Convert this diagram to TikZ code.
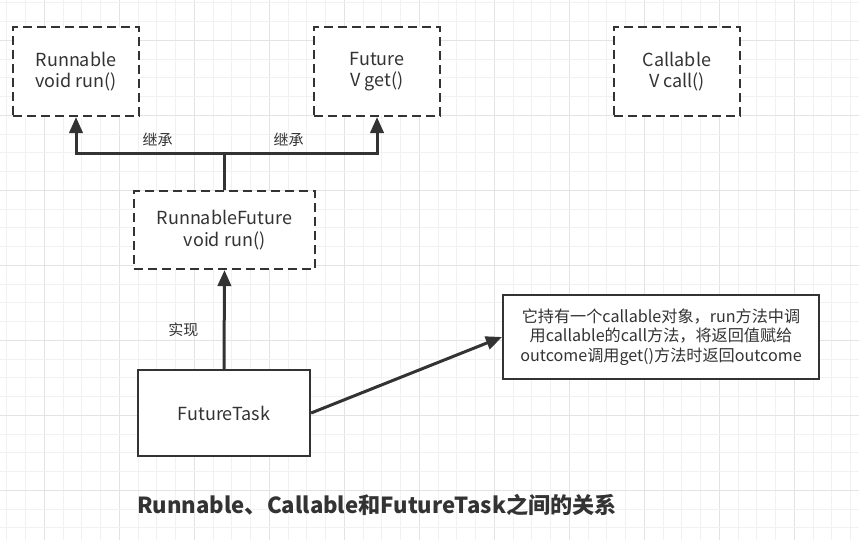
\documentclass[tikz,border=0pt]{standalone}
\usepackage{fontspec}
\setmainfont{Noto Sans CJK SC}
\usetikzlibrary{positioning, arrows.meta, calc}
\definecolor{drawio_dark}{HTML}{333333}
\definecolor{grid_minor}{HTML}{F1F1F1}
\definecolor{grid_major}{HTML}{E3E3E3}
\tikzstyle{iface} = [draw=drawio_dark, line width=1.6pt, dash pattern=on 6.5pt off 4pt, fill=white, text=drawio_dark, align=center, inner sep=0pt, font=\fontsize{13.5}{16.2}\selectfont]
\tikzstyle{cls} = [draw=drawio_dark, line width=1.6pt, fill=white, text=drawio_dark, align=center, inner sep=0pt]
\tikzstyle{arrow} = [drawio_dark, line width=2.25pt, -{Triangle[length=12pt, width=10pt]}]
\tikzstyle{link} = [drawio_dark, line width=2.25pt]
\tikzstyle{lbl} = [text=drawio_dark, font=\fontsize{11.25}{13}\selectfont]

\begin{document}
\begin{tikzpicture}[x=0.75pt, y=-0.75pt]
        \useasboundingbox (0,0) rectangle (859,540);
        % grid
        \foreach \k in {0,...,45} {
            \pgfmathsetmacro{\gx}{6.8+18.75*\k}
            \pgfmathtruncatemacro{\gm}{mod(\k,4)}
            \ifnum\gm=2 \draw[grid_major, line width=0.75pt] (\gx,0) -- (\gx,540);
            \else \draw[grid_minor, line width=0.75pt] (\gx,0) -- (\gx,540); \fi
        }
        \foreach \k in {0,...,28} {
            \pgfmathsetmacro{\gy}{2.8+18.75*\k}
            \pgfmathtruncatemacro{\gm}{mod(\k,4)}
            \ifnum\gm=2 \draw[grid_major, line width=0.75pt] (0,\gy) -- (859,\gy);
            \else \draw[grid_minor, line width=0.75pt] (0,\gy) -- (859,\gy); \fi
        }

        \node (runnable) [iface, minimum width=94.5pt, minimum height=66.75pt] at (76,71.5) {Runnable\\void run()};
        \node (future) [iface, minimum width=94.5pt, minimum height=66.75pt] at (377,71.5) {Future\\V get()};
        \node (callable) [iface, minimum width=94.5pt, minimum height=66.75pt] at (677,71.5) {Callable\\V call()};
        \node (runnable_future) [iface, minimum width=135.75pt, minimum height=58.5pt] at (224.5,230) {RunnableFuture\\void run()};
        \node (future_task) [cls, minimum width=129pt, minimum height=64.5pt, font=\fontsize{13.5}{15.75}\selectfont] at (224,413) {FutureTask};
        \node (note) [cls, minimum width=237pt, minimum height=63pt, font=\fontsize{12.1}{14.8}\selectfont] at (661,337) {它持有一个callable对象，run方法中调\\用callable的call方法，将返回值赋给\\outcome调用get()方法时返回outcome};

        \coordinate (join) at (runnable_future.north |- 0,153);
        \draw [link] (runnable_future.north) -- (join);
        \draw [arrow] (join) -| node[lbl, pos=0.225, above, yshift=0.5pt] {继承} (runnable.south);
        \draw [arrow] (join) -| node[lbl, pos=0.21, above, yshift=0.5pt] {继承} (future.south);

        \draw [arrow] (future_task.north) -- node[lbl, left, xshift=-15pt, pos=0.4] {实现} (runnable_future.south);
        \draw [arrow] (future_task.east) -- (note.west);

        \node (title) [text=drawio_dark, font=\fontsize{16.6}{19}\selectfont\bfseries] at (377,505) {Runnable、Callable和FutureTask之间的关系};
    \end{tikzpicture}
\end{document}
